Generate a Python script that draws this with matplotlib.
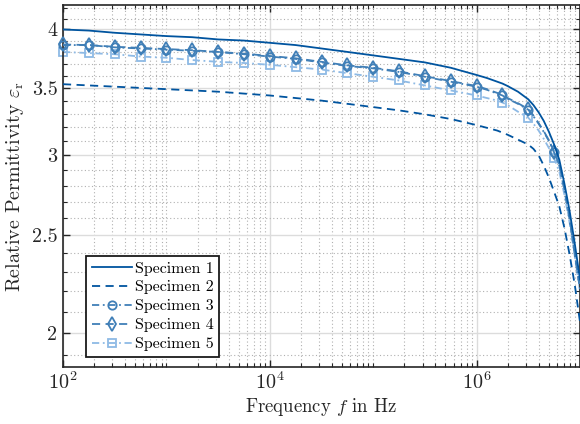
import numpy as np
import matplotlib
matplotlib.use("Agg")
import matplotlib.pyplot as plt
from matplotlib.ticker import FixedLocator, FixedFormatter, LogFormatterSciNotation, NullFormatter

plt.rcParams['font.family'] = 'serif'
plt.rcParams['font.serif'] = ['cmr10', 'DejaVu Serif']
plt.rcParams['mathtext.fontset'] = 'cm'
plt.rcParams['axes.formatter.use_mathtext'] = True

# ---- data ----
freq_exp = [2.0, 2.25, 2.5, 2.75, 3.0, 3.25, 3.5, 3.75, 4.0, 4.25, 4.5, 4.75, 5.0,
            5.25, 5.5, 5.75, 6.0, 6.1, 6.2, 6.25, 6.3, 6.4, 6.5, 6.55, 6.6, 6.65,
            6.7, 6.75, 6.8, 6.85, 6.9, 6.95, 7.0]
spec1 = [4.00, 3.99, 3.97, 3.955, 3.94, 3.93, 3.91, 3.90, 3.88, 3.86, 3.83, 3.80, 3.77,
         3.74, 3.71, 3.665, 3.605, 3.58, 3.55, 3.535, 3.515, 3.47, 3.41, 3.365, 3.31, 3.245,
         3.165, 3.075, 2.97, 2.81, 2.64, 2.45, 2.26]
spec2 = [3.53, 3.52, 3.51, 3.50, 3.49, 3.48, 3.47, 3.455, 3.44, 3.42, 3.40, 3.375, 3.35,
         3.325, 3.295, 3.26, 3.215, 3.195, 3.175, 3.16, 3.145, 3.11, 3.075, 3.045, 3.00, 2.93,
         2.85, 2.76, 2.67, 2.54, 2.39, 2.23, 2.05]
spec3 = [3.86, 3.86, 3.84, 3.83, 3.82, 3.81, 3.80, 3.78, 3.76, 3.74, 3.71, 3.68, 3.66,
         3.63, 3.59, 3.55, 3.51, 3.485, 3.455, 3.44, 3.415, 3.375, 3.33, 3.28, 3.225, 3.165,
         3.10, 3.02, 2.93, 2.77, 2.59, 2.39, 2.21]
spec4 = [3.865, 3.86, 3.845, 3.835, 3.825, 3.815, 3.80, 3.785, 3.765, 3.745, 3.715, 3.685, 3.665,
         3.635, 3.595, 3.555, 3.515, 3.49, 3.46, 3.445, 3.42, 3.38, 3.335, 3.285, 3.23, 3.17,
         3.105, 3.025, 2.935, 2.775, 2.595, 2.395, 2.215]
spec5 = [3.80, 3.79, 3.78, 3.76, 3.75, 3.73, 3.715, 3.705, 3.69, 3.67, 3.65, 3.62, 3.59,
         3.56, 3.52, 3.48, 3.44, 3.42, 3.40, 3.385, 3.365, 3.315, 3.27, 3.225, 3.175, 3.115,
         3.05, 2.98, 2.89, 2.74, 2.57, 2.38, 2.20]
labels = ['Specimen 1', 'Specimen 2', 'Specimen 3', 'Specimen 4', 'Specimen 5']
marker_idx = list(range(17)) + [19, 22, 27]

y_major = [2, 2.5, 3, 3.5, 4]
y_major_labels = ['2', '2.5', '3', '3.5', '4']
y_minor = [1.9, 2.1, 2.2, 2.3, 2.4, 2.6, 2.7, 2.8, 2.9, 3.1, 3.2, 3.3, 3.4,
           3.6, 3.7, 3.8, 3.9, 4.1, 4.2]
x_major = [1e2, 1e4, 1e6]

freq = 10.0 ** np.array(freq_exp)

c100 = '#00549F'
c75 = '#407FB7'
c50 = '#8EBAE5'

fig = plt.figure(figsize=(5.8, 4.24), dpi=100)
ax = fig.add_axes([63/580, 1 - 367/424, (580 - 63)/580, (367 - 5)/424])

lw = 1.3
ax.plot(freq, spec1, color=c100, lw=lw, ls='-', label=labels[0], zorder=5)
ax.plot(freq, spec2, color=c100, lw=lw, dashes=(4.5, 3), label=labels[1], zorder=4)
ax.plot(freq, spec3, color=c75, lw=lw, dashes=(4, 2, 1, 2), marker='o', ms=6,
        mfc='none', mew=1.3, markevery=marker_idx, label=labels[2], zorder=3, clip_on=False)
ax.plot(freq, spec4, color=c75, lw=lw, dashes=(4.5, 3), marker='d', ms=7,
        mfc='none', mew=1.3, markevery=marker_idx, label=labels[3], zorder=3, clip_on=False)
ax.plot(freq, spec5, color=c50, lw=lw, dashes=(4, 2, 1, 2), marker='s', ms=5.5,
        mfc='none', mew=1.3, markevery=marker_idx, label=labels[4], zorder=2, clip_on=False)

ax.set_xscale('log')
ax.set_yscale('log')
ax.set_xlim(1e2, 1e7)
ax.set_ylim(1.85, 4.23)

x_minor = [k * 10.0**d for d in range(2, 7) for k in range(1, 10) if k != 1 or d % 2 == 1]
ax.xaxis.set_major_locator(FixedLocator(x_major))
ax.xaxis.set_major_formatter(LogFormatterSciNotation())
ax.xaxis.set_minor_locator(FixedLocator(x_minor))
ax.xaxis.set_minor_formatter(NullFormatter())
ax.yaxis.set_major_locator(FixedLocator(y_major))
ax.yaxis.set_major_formatter(FixedFormatter(y_major_labels))
ax.yaxis.set_minor_locator(FixedLocator(y_minor))
ax.yaxis.set_minor_formatter(NullFormatter())

axc = '#262626'
ax.tick_params(which='both', direction='in', top=True, right=True, color=axc,
               labelcolor=axc, labelsize=14.5)
ax.tick_params(which='major', length=5, width=1.0)
ax.tick_params(which='minor', length=3, width=0.8)
ax.tick_params(axis='x', which='major', pad=3)
ax.tick_params(axis='y', which='major', pad=4)
for s in ax.spines.values():
    s.set_color(axc)
    s.set_linewidth(1.2)

ax.set_axisbelow(True)
ax.grid(which='major', color='#dcdcdc', lw=1.0, ls='-')
ax.grid(which='minor', color='#b0b0b0', lw=0.8, ls=(0, (1, 2.2)))

ax.set_xlabel('Frequency $f$ in Hz', fontsize=13.5, color=axc, labelpad=2)
ax.set_ylabel('Relative Permittivity $\\varepsilon_\\mathrm{r}$', fontsize=14.5, color=axc, labelpad=4)

leg = ax.legend(loc='lower left', bbox_to_anchor=((86 - 63)/517, (367 - 357)/362),
                borderaxespad=0, fontsize=11.5, frameon=True, fancybox=False,
                framealpha=1, edgecolor='#1a1a1a', handlelength=2.55,
                handletextpad=0.15, labelspacing=0.3, borderpad=0.35)
leg.get_frame().set_linewidth(1.3)
leg.set_zorder(10)

fig.savefig('out.png', dpi=100)
